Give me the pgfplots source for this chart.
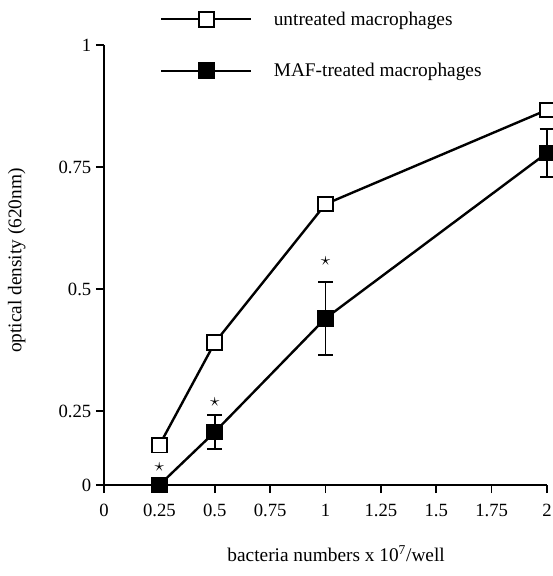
\documentclass[border=0pt]{standalone}
\usepackage{pgfplots}
\pgfplotsset{compat=1.18}
\usepackage{fontspec}
\setmainfont{Liberation Serif}
\begin{document}
\begin{tikzpicture}
\useasboundingbox (-78pt,-68.25pt) rectangle (336.75pt,363.75pt);
\begin{axis}[
  scale only axis, width=332.25pt, height=330pt,
  xmin=0, xmax=2, ymin=0.0984, ymax=1,
  clip=false,
  axis x line=bottom, axis y line=left,
  axis line style={line width=1.3pt,-},
  xtick={0,0.25,0.5,0.75,1,1.25,1.5,1.75,2},
  xticklabels={0,0.25,0.5,0.75,1,1.25,1.5,1.75,2},
  ytick={0.0984,0.25,0.5,0.75,1},
  yticklabels={0,0.25,0.5,0.75,1},
  tick align=outside, major tick length=6pt,
  tick style={line width=1.3pt, black},
  ticklabel style={font=\fontsize{14}{16}\selectfont},
  xticklabel style={yshift=-5pt},
  /pgf/number format/assume math mode=true,
  xlabel={bacteria numbers x 10\textsuperscript{7}/well},
  ylabel={optical density (620nm)},
  label style={font=\fontsize{14.5}{17}\selectfont},
  xlabel style={at={(axis description cs:0.524,-0.155)}, anchor=center},
  ylabel style={at={(axis description cs:-0.197,0.51)}, anchor=center},
  legend style={draw=none, fill=none, inner sep=0pt,
    at={(axis description cs:0.126,1)}, anchor=west,
    font=\fontsize{14.5}{17}\selectfont,
    row sep=23pt, column sep=14pt,
    cells={anchor=west}},
  legend cell align=left,
  legend image code/.code={%
    \draw[#1, mark repeat=2, mark phase=2] plot coordinates {(0pt,0pt) (33.75pt,0pt) (67.5pt,0pt)};},
]
% untreated macrophages
\addplot[black, line width=1.8pt, mark=square*, mark size=5.5pt,
  mark options={fill=white, line width=1.4pt, solid}]
  coordinates {(0.25,0.180) (0.5,0.390) (1,0.674) (2,0.867)};
\addlegendentry{untreated macrophages}
% MAF-treated macrophages
\addplot[black, line width=1.8pt, mark=square*, mark size=5.5pt,
  mark options={fill=black, line width=1.4pt, solid},
  error bars/.cd, y dir=both, y explicit,
  error bar style={line width=1.4pt},
  error mark options={rotate=90, mark size=5.6pt, line width=1.4pt}]
  coordinates {(0.25,0.0984) +- (0,0)
               (0.5,0.207) +- (0,0.034)
               (1,0.440) +- (0,0.075)
               (2,0.779) +- (0,0.049)};
\addlegendentry{MAF-treated macrophages}
% significance stars
\addplot[only marks, mark=text, text mark={\fontsize{14}{16}\selectfont$\star$}, forget plot]
  coordinates {(0.25,0.135) (0.5,0.268) (1,0.557)};
\end{axis}
\end{tikzpicture}
\end{document}
